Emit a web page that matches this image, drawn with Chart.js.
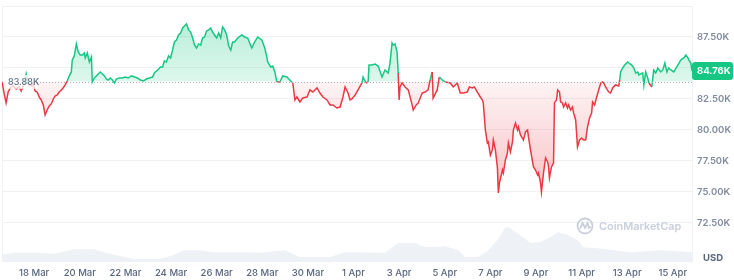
<!DOCTYPE html>
<html>
<head>
<meta charset="utf-8">
<script src="https://cdn.jsdelivr.net/npm/chart.js@4.4.1/dist/chart.umd.min.js"></script>
<style>
  html, body { margin: 0; padding: 0; background: #fff; }
</style>
</head>
<body>
<canvas id="myChart" width="734" height="280"></canvas>
<script>
// price in thousands USD, time in days from 18 Mar 00:00
var baseline = 83.88;
var lastPrice = 84.76;

var priceDays = [-1.41,-1.32,-1.23,-1.14,-1.05,-0.92,-0.79,-0.66,-0.57,-0.44,-0.35,-0.26,-0.13,-0.04,
  0.04,0.13,0.22,0.31,0.40,0.48,0.57,0.66,0.75,0.84,0.92,1.01,1.10,1.19,1.27,1.36,1.45,1.54,1.63,1.67,
  1.76,1.85,1.93,2.02,2.11,2.20,2.24,2.33,2.42,2.51,2.55,2.64,2.73,2.81,2.90,2.99,3.08,3.16,3.25,3.34,
  3.43,3.52,3.60,3.74,3.87,4.00,4.13,4.26,4.40,4.53,4.66,4.79,4.92,5.05,5.19,5.27,5.41,5.54,5.63,5.71,
  5.80,5.89,5.98,6.07,6.15,6.24,6.33,6.42,6.51,6.59,6.68,6.77,6.86,6.95,7.03,7.12,7.21,7.30,7.38,7.47,
  7.56,7.65,7.74,7.82,7.91,8.00,8.09,8.18,8.26,8.35,8.44,8.53,8.62,8.70,8.79,8.92,9.10,9.23,9.36,9.54,
  9.67,9.80,9.98,10.11,10.20,10.24,10.37,10.46,10.55,10.64,10.77,10.90,11.08,11.21,11.34,11.43,11.52,
  11.65,11.78,11.96,12.09,12.22,12.40,12.53,12.66,12.84,12.97,13.10,13.27,13.41,13.54,13.63,13.76,13.85,
  13.93,14.07,14.20,14.37,14.42,14.55,14.64,14.68,14.81,14.95,15.08,15.25,15.38,15.52,15.60,15.69,15.74,
  15.82,15.91,15.96,16.00,16.04,16.13,16.26,16.40,16.57,16.62,16.75,16.84,17.01,17.14,17.27,17.36,17.45,
  17.49,17.67,17.76,17.89,18.02,18.24,18.37,18.55,18.68,18.81,18.99,19.08,19.21,19.30,19.43,19.56,19.65,
  19.69,19.78,19.87,19.91,20.00,20.09,20.13,20.22,20.31,20.35,20.40,20.53,20.57,20.66,20.75,20.79,20.88,
  20.97,21.01,21.10,21.19,21.23,21.32,21.45,21.54,21.63,21.67,21.76,21.85,21.89,21.98,22.07,22.11,22.20,
  22.24,22.33,22.42,22.51,22.55,22.59,22.68,22.77,22.81,22.90,22.95,23.03,23.08,23.16,23.21,23.30,23.38,
  23.43,23.52,23.60,23.65,23.74,23.82,23.91,24.00,24.09,24.18,24.26,24.35,24.44,24.48,24.57,24.66,24.75,
  24.84,24.92,24.97,25.05,25.19,25.27,25.36,25.49,25.63,25.67,25.71,25.80,25.89,26.02,26.07,26.20,26.29,
  26.37,26.46,26.51,26.68,26.73,26.81,26.90,26.95,27.08,27.16,27.25,27.34,27.47,27.56,27.65,27.74,27.82,
  27.91,28.04,28.22,28.35,28.48,28.57,28.66,28.70,28.79,28.84];

var prices = [83.88,82.98,82.18,83.06,83.39,83.55,83.31,83.47,83.15,83.71,84.52,83.71,83.55,83.63,
  83.15,83.06,82.66,82.42,82.02,81.21,81.61,81.94,82.10,82.50,82.74,82.82,83.06,83.23,83.39,83.63,83.95,84.36,84.68,85.65,
  85.97,86.94,86.29,86.05,86.05,86.21,85.81,86.21,85.48,85.89,83.87,84.19,84.36,84.52,84.68,84.52,84.36,84.11,84.03,84.19,
  84.03,83.79,84.11,84.19,84.19,84.27,84.19,84.36,84.27,84.19,84.03,83.95,84.11,84.19,84.27,84.60,84.84,85.08,85.08,85.57,
  85.48,85.97,85.81,86.45,87.10,87.26,87.66,87.82,88.23,88.39,88.55,88.07,87.90,87.42,86.85,86.61,86.94,86.85,87.42,87.50,
  87.98,88.07,88.23,87.90,87.66,87.42,87.82,87.42,88.31,88.07,87.66,86.77,86.45,87.10,87.10,87.42,87.66,87.50,87.42,86.61,
  87.10,87.50,87.26,86.61,85.89,85.48,85.08,85.16,84.68,83.87,83.87,84.36,84.27,84.03,83.79,82.42,82.66,
  82.26,82.58,82.66,83.23,83.06,83.39,82.98,82.66,82.42,82.02,82.02,81.77,81.85,82.66,83.47,82.98,82.42,
  82.50,82.82,83.23,83.79,84.27,83.79,83.87,85.24,85.24,85.32,85.16,84.27,84.84,84.60,85.40,87.02,86.85,
  86.94,86.29,84.60,82.42,83.47,83.79,83.47,83.23,82.02,81.61,82.02,82.18,82.98,83.06,83.23,84.03,84.68,
  82.58,83.23,84.27,84.03,83.87,83.79,83.47,83.79,82.98,82.98,83.06,83.47,83.39,83.47,83.06,82.66,82.42,
  82.18,80.00,78.95,79.03,77.97,78.39,79.19,78.39,76.94,74.92,75.73,76.77,76.53,77.58,78.15,78.95,78.23,
  79.03,80.00,80.56,80.00,80.24,79.60,79.19,79.84,80.00,79.44,78.39,77.42,77.02,76.77,76.37,76.53,75.73,
  75.00,76.53,77.74,77.42,77.02,76.13,77.02,77.34,82.18,82.42,83.23,83.06,82.26,82.18,81.85,82.18,81.77,
  82.02,81.61,81.85,81.37,80.81,78.63,79.19,79.35,79.19,79.19,80.24,80.97,81.37,82.26,82.02,82.66,83.23,
  83.79,83.87,83.79,83.47,83.06,82.98,83.39,83.63,83.55,84.03,84.68,85.00,85.24,85.48,85.40,85.24,85.00,
  84.60,84.68,84.44,84.60,83.63,84.68,84.19,83.79,83.47,84.84,84.60,85.00,84.68,84.84,85.40,84.68,85.00,
  84.84,84.68,85.24,85.65,85.81,86.05,85.81,85.65,85.40,84.76];

// 24h volume, billions USD
var volDays = [-1.41,-0.88,0.22,0.88,1.76,2.64,3.30,3.96,4.40,5.49,6.02,6.59,7.25,7.91,9.45,9.89,10.99,
  11.65,12.97,13.63,14.29,15.38,15.96,16.70,17.14,18.02,18.59,18.90,19.47,19.91,20.31,20.66,20.79,21.19,
  21.76,22.20,22.64,22.95,23.38,23.82,24.09,24.70,25.41,26.15,27.47,28.84];
var volumes = [14,18,18,16,25,25,16,10,6,6,12,23,23,19,19,18,23,
  10,10,19,19,18,37,37,29,31,23,10,10,23,43,68,68,56,
  37,39,49,58,53,43,29,27,23,19,23,19];

var tickDays = [0,2,4,6,8,10,12,14,16,18,20,22,24,26,28];
var tickLabels = ['18 Mar','20 Mar','22 Mar','24 Mar','26 Mar','28 Mar','30 Mar','1 Apr','3 Apr',
  '5 Apr','7 Apr','9 Apr','11 Apr','13 Apr','15 Apr'];
var yTicks = [72.5, 75, 77.5, 80, 82.5, 85, 87.5, 90];

var green = '#16c784';
var red = '#ea3943';
var gridColor = '#eff2f5';

function toPoints(xs, ys) {
  return xs.map(function(x, i) { return {x: x, y: ys[i]}; });
}

var overlay = {
  id: 'overlay',
  beforeDatasetsDraw: function(chart) {
    var ctx = chart.ctx, a = chart.chartArea;
    ctx.save();
    ctx.strokeStyle = gridColor;
    ctx.lineWidth = 1;
    ctx.beginPath();
    ctx.moveTo(a.left + 0.5, a.top);
    ctx.lineTo(a.left + 0.5, a.bottom);
    ctx.stroke();

    // watermark
    var cx = a.right - 107, cy = a.bottom - 36;
    ctx.strokeStyle = '#c9d0dc';
    ctx.lineWidth = 1.8;
    ctx.beginPath();
    ctx.arc(cx, cy, 7.5, 0, Math.PI * 2);
    ctx.stroke();
    ctx.beginPath();
    ctx.moveTo(cx - 5, cy + 3);
    ctx.lineTo(cx - 2.5, cy - 3);
    ctx.lineTo(cx, cy + 2);
    ctx.lineTo(cx + 2.5, cy - 3);
    ctx.lineTo(cx + 4, cy + 2);
    ctx.lineTo(cx + 6, cy + 1);
    ctx.stroke();
    ctx.font = '600 13px Inter';
    var w = ctx.measureText('CoinMarketCap').width;
    var size = 13 * 82 / w;
    ctx.font = '600 ' + size.toFixed(1) + 'px Inter';
    ctx.fillStyle = '#c9d0dc';
    ctx.textBaseline = 'middle';
    ctx.fillText('CoinMarketCap', cx + 14, cy + 1);
    ctx.restore();
  },
  afterDatasetsDraw: function(chart) {
    var ctx = chart.ctx, a = chart.chartArea;
    var yb = chart.scales.y.getPixelForValue(baseline);
    ctx.save();
    // baseline label
    ctx.fillStyle = 'rgba(255,255,255,0.75)';
    ctx.fillRect(a.left + 4, yb - 7, 32, 14);
    ctx.strokeStyle = '#a9b1c0';
    ctx.lineWidth = 1;
    ctx.setLineDash([1, 2]);
    ctx.beginPath();
    ctx.moveTo(a.left + 35, Math.round(yb) + 0.5);
    ctx.lineTo(a.right, Math.round(yb) + 0.5);
    ctx.stroke();
    ctx.setLineDash([]);
    ctx.font = '500 9px Inter';
    ctx.fillStyle = '#58667e';
    ctx.textBaseline = 'middle';
    ctx.fillText('83.88K', a.left + 6, yb + 0.5);
    ctx.restore();
  },
  afterDraw: function(chart) {
    var ctx = chart.ctx, a = chart.chartArea;
    var yl = chart.scales.y.getPixelForValue(lastPrice);
    ctx.save();
    ctx.fillStyle = green;
    ctx.beginPath();
    ctx.roundRect(a.right, yl - 9, 41, 18, 3);
    ctx.fill();
    ctx.fillStyle = '#fff';
    ctx.font = '700 9.5px Inter';
    ctx.textBaseline = 'middle';
    ctx.fillText('84.76K', a.right + 5, yl + 0.5);
    ctx.fillStyle = '#58667e';
    ctx.font = '700 9.5px Inter';
    ctx.fillText('USD', a.right + 11, a.bottom - 4);
    ctx.restore();
  }
};

function init() {
  var ctx = document.getElementById('myChart').getContext('2d');
  var chart = new Chart(ctx, {
    type: 'line',
    data: {
      datasets: [{
        label: 'Volume',
        data: toPoints(volDays, volumes),
        yAxisID: 'yv',
        order: 2,
        borderWidth: 0,
        pointRadius: 0,
        backgroundColor: '#eef1f5',
        fill: 'origin'
      }, {
        label: 'Price',
        data: toPoints(priceDays, prices),
        yAxisID: 'y',
        order: 1,
        borderWidth: 1.5,
        pointRadius: 0,
        borderColor: green,
        fill: {target: {value: baseline}, above: 'rgba(22,199,132,0.2)', below: 'rgba(234,57,67,0.1)'},
        segment: {
          borderColor: function(c) {
            return (c.p0.parsed.y + c.p1.parsed.y) / 2 >= baseline ? green : red;
          }
        }
      }]
    },
    options: {
      responsive: false,
      animation: false,
      layout: {padding: {left: 2, top: 6, right: 0, bottom: 0}},
      plugins: {legend: {display: false}, tooltip: {enabled: false}},
      scales: {
        x: {
          type: 'linear',
          min: -1.41,
          max: 28.84,
          afterBuildTicks: function(s) { s.ticks = tickDays.map(function(v) { return {value: v}; }); },
          afterFit: function(s) { s.height = 18; s.paddingLeft = 0; s.paddingRight = 0; },
          grid: {display: false, drawTicks: false},
          border: {display: false},
          ticks: {
            autoSkip: false,
            maxRotation: 0,
            padding: 5,
            color: '#58667e',
            font: {family: 'Inter', size: 9.5, weight: 500},
            callback: function(v) { return tickLabels[tickDays.indexOf(v)]; }
          }
        },
        y: {
          position: 'right',
          min: 69.35,
          max: 90,
          afterBuildTicks: function(s) { s.ticks = yTicks.map(function(v) { return {value: v}; }); },
          afterFit: function(s) { s.width = 42; s.paddingTop = 0; s.paddingBottom = 0; },
          grid: {color: gridColor, drawTicks: false},
          border: {display: true, color: gridColor},
          ticks: {
            padding: 5,
            color: '#808a9d',
            font: {family: 'Inter', size: 9.5, weight: 600},
            callback: function(v) { return v >= 90 ? '' : v.toFixed(2) + 'K'; }
          }
        },
        yv: {
          display: false,
          min: 0,
          max: 500
        }
      }
    },
    plugins: [overlay]
  });

  // gradient fills once the chart area is known
  var a = chart.chartArea;
  var yb = chart.scales.y.getPixelForValue(baseline);
  var gUp = ctx.createLinearGradient(0, a.top, 0, yb);
  gUp.addColorStop(0, 'rgba(22,199,132,0.34)');
  gUp.addColorStop(1, 'rgba(22,199,132,0.14)');
  var gDown = ctx.createLinearGradient(0, yb, 0, chart.scales.y.getPixelForValue(75));
  gDown.addColorStop(0, 'rgba(234,57,67,0.06)');
  gDown.addColorStop(1, 'rgba(234,57,67,0.3)');
  chart.data.datasets[1].fill = {target: {value: baseline}, above: gUp, below: gDown};
  chart.update('none');
}

init();
</script>
</body>
</html>
